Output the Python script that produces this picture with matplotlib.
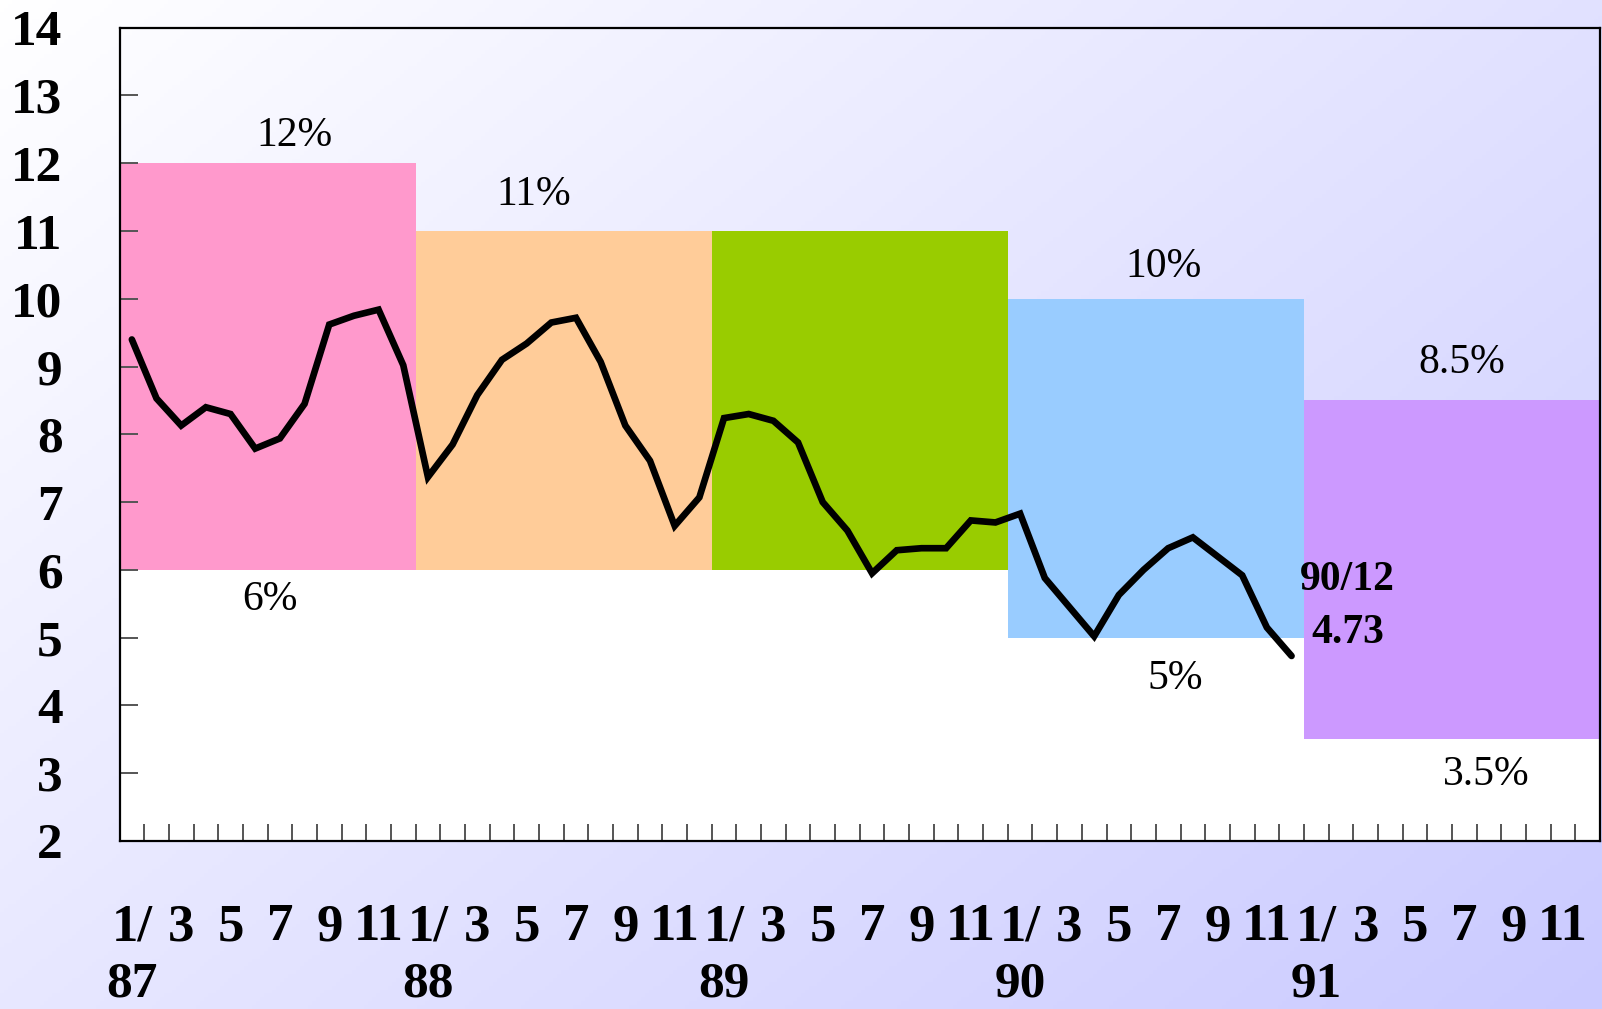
import numpy as np
import matplotlib
matplotlib.use("Agg")
import matplotlib.pyplot as plt
from matplotlib.colors import LinearSegmentedColormap

# ---------------- data ----------------
years = ["87", "88", "89", "90", "91"]
band_upper = [12, 11, 11, 10, 8.5]
band_lower = [6, 6, 6, 5, 3.5]
band_colors = ["#FF99CC", "#FFCC99", "#99CC00", "#99CCFF", "#CC99FF"]

month_labels = ["1/", "3", "5", "7", "9", "11"]

rate_1987 = [9.40, 8.53, 8.13, 8.40, 8.30, 7.79, 7.94, 8.45, 9.62, 9.75, 9.84, 9.02]
rate_1988 = [7.37, 7.85, 8.58, 9.10, 9.34, 9.65, 9.72, 9.07, 8.13, 7.61, 6.65, 7.07]
rate_1989 = [8.24, 8.30, 8.20, 7.88, 7.00, 6.58, 5.95, 6.29, 6.32, 6.32, 6.73, 6.70]
rate_1990 = [6.83, 5.88, 5.45, 5.02, 5.63, 6.00, 6.32, 6.48, 6.20, 5.92, 5.15, 4.73]

upper_texts = ["12%", "11%", None, "10%", "8.5%"]
upper_text_dx = [7.1, 4.8, 6.0, 6.3, 6.4]
upper_text_dy = [0.40, 0.54, 0.5, 0.47, 0.55]
lower_texts = ["6%", None, None, "5%", "3.5%"]
lower_text_dx = [6.1, 6.0, 6.0, 6.8, 7.4]
lower_text_dy = [-0.44, -0.5, -0.5, -0.60, -0.52]

last_label = "90/12"
last_value_text = "4.73"

# ---------------- figure ----------------
W, H = 1602, 1009
fig = plt.figure(figsize=(W / 100, H / 100), dpi=100)

# gradient background
bg = fig.add_axes([0, 0, 1, 1], zorder=0)
gx = np.linspace(0, 1, 400)
gy = np.linspace(0, 1, 260)
XX, YY = np.meshgrid(gx, gy)
T = 0.56 * XX + 0.44 * YY
cmap = LinearSegmentedColormap.from_list("bg", ["#FFFFFF", "#CACAFF"])
bg.imshow(T, cmap=cmap, extent=[0, 1, 0, 1], origin="upper", aspect="auto", vmin=0, vmax=1)
bg.set_axis_off()

serif = ["Liberation Serif", "DejaVu Serif"]

ax = fig.add_axes([119.5 / W, 1 - 841 / H, (1600 - 119.5) / W, (841 - 27.7) / H], zorder=1)
ax.set_facecolor("none")

n_years = len(years)
starts = np.arange(n_years) * 12
# white area below each band
ax.bar(starts, np.array(band_lower) - 2, width=12, bottom=2, align="edge",
       color="white", linewidth=0, zorder=1)
# colored bands
ax.bar(starts, np.array(band_upper) - np.array(band_lower), width=12,
       bottom=band_lower, align="edge", color=band_colors, linewidth=0, zorder=1)

rates = rate_1987 + rate_1988 + rate_1989 + rate_1990
xs = np.arange(len(rates)) + 0.5
ax.plot(xs, rates, color="black", lw=4.8, solid_capstyle="round",
        solid_joinstyle="miter", zorder=3)

for i in range(n_years):
    if upper_texts[i]:
        ax.text(starts[i] + upper_text_dx[i], band_upper[i] + upper_text_dy[i],
                upper_texts[i], ha="center", va="center", fontsize=30,
                family=serif, zorder=4)
    if lower_texts[i]:
        ax.text(starts[i] + lower_text_dx[i], band_lower[i] + lower_text_dy[i],
                lower_texts[i], ha="center", va="center", fontsize=30,
                family=serif, zorder=4)

ax.text(xs[-1] + 2.26, 5.85, last_label, ha="center", va="center",
        fontsize=30, fontweight="bold", family=serif, zorder=4)
ax.text(xs[-1] + 2.26, 5.07, last_value_text, ha="center", va="center",
        fontsize=30, fontweight="bold", family=serif, zorder=4)

ax.set_xlim(0, 60)
ax.set_ylim(2, 14)

# y axis
ax.set_yticks(np.arange(2, 15))
ax.set_yticklabels([str(v) for v in range(2, 15)], fontsize=37,
                   fontweight="bold", family=serif)
ax.tick_params(axis="y", direction="in", length=13, width=1.4,
               color="#555555", pad=41, left=True, right=False)

# x axis
major_x = []
major_lbl = []
for i in range(n_years):
    for j, lab in enumerate(month_labels):
        major_x.append(starts[i] + 2 * j + 0.5)
        major_lbl.append(lab)
ax.set_xticks(major_x)
ax.set_xticklabels(major_lbl, fontsize=38, fontweight="bold", family=serif)
ax.set_xticks(np.arange(1, 60), minor=True)
ax.tick_params(axis="x", which="major", length=0, pad=45)
ax.tick_params(axis="x", which="minor", direction="in", length=12.5,
               width=1.4, color="#555555")

for i in range(n_years):
    ax.text(starts[i] + 0.5, -0.177, years[i], transform=ax.get_xaxis_transform(),
            ha="center", va="center", fontsize=37, fontweight="bold",
            family=serif)

for s in ax.spines.values():
    s.set_linewidth(1.6)
    s.set_color("black")
    s.set_zorder(5)

fig.savefig("out.png", dpi=100)
